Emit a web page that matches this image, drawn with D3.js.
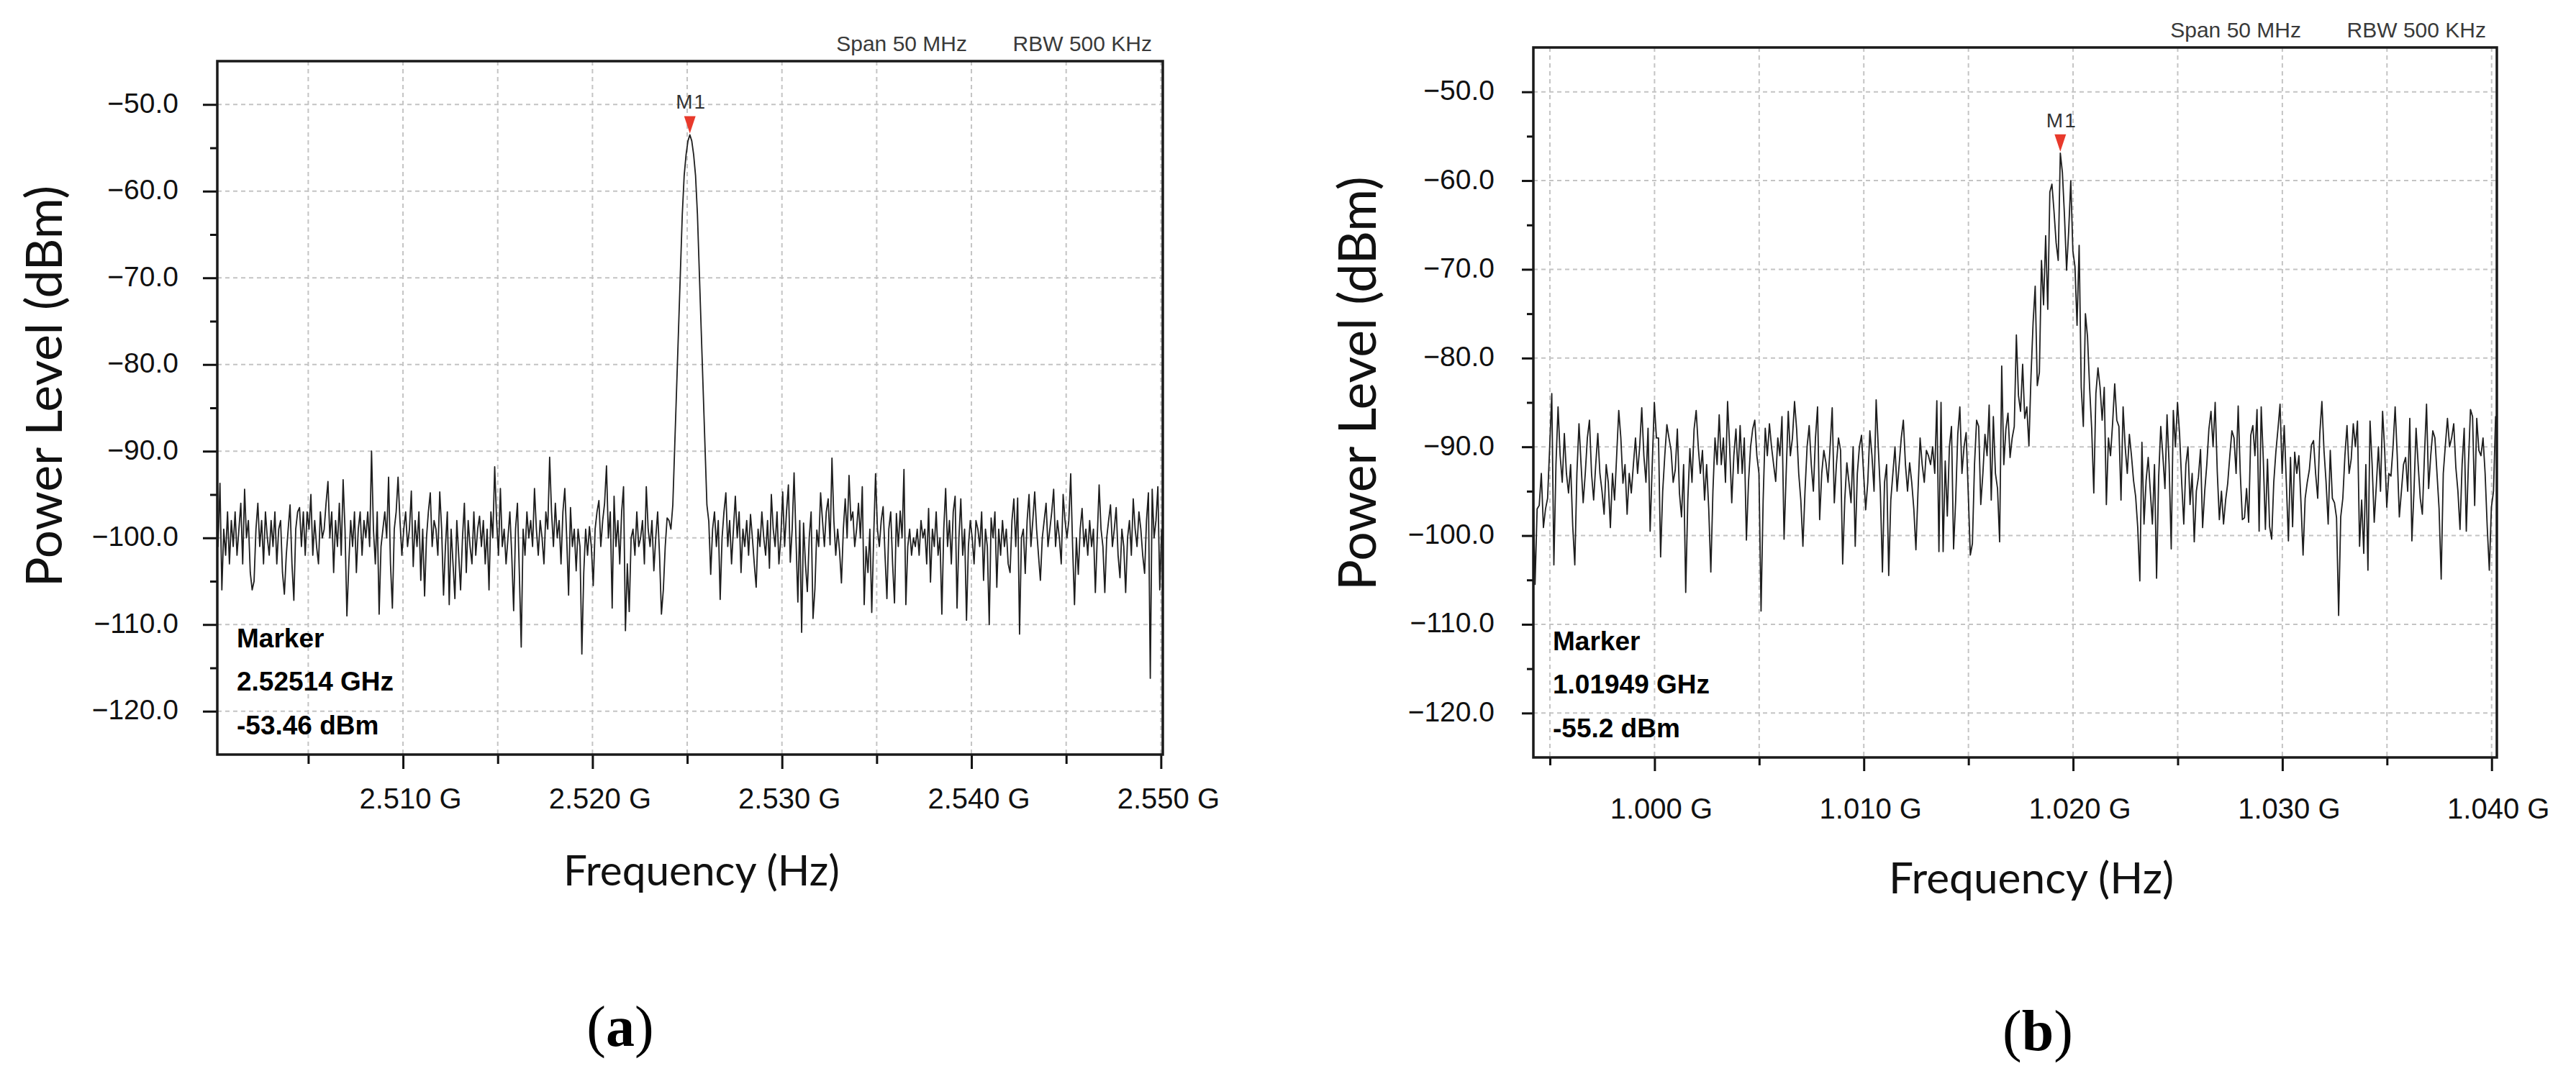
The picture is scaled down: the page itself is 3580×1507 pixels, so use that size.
<!DOCTYPE html>
<html>
<head>
<meta charset="utf-8">
<script src="https://cdn.jsdelivr.net/npm/d3@7"></script>
<style>
  body { margin: 0; background: #fff; }
  svg { display: block; }
</style>
</head>
<body>
<svg id="fig" width="3580" height="1507"></svg>
<script>
// ---- data ----
// (a) 2.5 GHz span, one sample every 0.1 MHz
const specA_start = 2.50014;   // GHz
const specA_step = 0.0001;     // GHz
const specA_level = [
  -98, -101, -93.7, -106, -99, -102, -97, -103, -98, -101,
  -97, -102, -99, -96, -103, -94.4, -100, -98, -104, -106,
  -105, -99, -96, -101, -98, -103, -97, -100, -102, -98,
  -101, -97, -103, -99, -98, -104, -106.5, -102, -99, -96.2,
  -103, -107.2, -99, -97, -96.5, -101, -97, -102, -97, -99,
  -95, -102, -98, -101, -103, -97, -100, -99, -96, -93.5,
  -100, -97, -104, -98, -101, -96, -102, -93.3, -99, -109,
  -103, -98, -101, -97, -104, -99, -97, -102, -98, -100,
  -97, -101, -90, -99, -103, -97, -108.8, -101, -99, -97,
  -100, -93, -103, -108.1, -99, -97, -93, -98, -102, -99,
  -97, -101, -99, -94.6, -103.3, -98, -101, -97, -104.9, -99,
  -106.7, -100, -97, -94.8, -101, -98, -99, -102, -94.7, -99,
  -106.6, -101, -97, -107.7, -99, -103, -107, -98, -102, -106,
  -100, -96, -104, -98, -101, -103, -97, -102, -99, -97.5,
  -101, -98, -103, -99, -106, -97, -100, -91.8, -98, -102,
  -94.3, -101, -99, -103, -100, -97, -102, -108.4, -99, -96,
  -104, -112.6, -99, -102, -97, -100, -98, -101, -94.3, -99,
  -102, -98, -100, -103, -97, -99, -90.7, -97, -101, -96,
  -100, -98, -103, -97, -94.3, -100, -106.6, -96.5, -101, -99,
  -103.8, -99, -101, -113.4, -104, -99, -102, -98.7, -101, -105.5,
  -99, -97, -95.7, -101, -98, -96, -91.7, -100, -97, -108.1,
  -95.2, -101, -98, -103, -97, -94.1, -110.7, -103, -108.5, -100,
  -99, -102, -97, -101, -100, -98, -103, -94.1, -99, -101,
  -98, -103.8, -100, -97, -102, -108.8, -106, -101, -97.7, -98,
  -99, -96.2, -89.5, -82.8, -76.1, -69.4, -62.7, -58.2, -55.8, -54.2,
  -53.5, -54.2, -55.8, -58.2, -62.7, -69.4, -76.1, -82.8, -89.5, -96.2,
  -98.1, -104.2, -99, -97, -101, -98, -107.1, -100, -97, -94.8,
  -101, -98, -103, -99, -95.2, -100, -97, -104, -99, -101,
  -98, -102, -97.3, -100, -103, -105.7, -99, -101, -97, -100,
  -102, -98, -103.5, -95, -99, -101, -97, -103, -100, -94.7,
  -101, -97, -93.9, -102.8, -99, -92.5, -100, -107.4, -98, -110.9,
  -98.3, -103, -106.2, -100, -97, -109.3, -105.9, -99.1, -101, -94.8,
  -98, -101, -97, -95.5, -100.8, -90.8, -98, -102, -99, -101.5,
  -105.2, -99, -95.5, -100, -92.8, -98, -97, -101, -99, -96,
  -100, -94.1, -107.7, -101, -104, -99, -108.6, -100, -92.6, -99,
  -101, -98, -96.4, -102, -107, -99, -97, -103, -107.5, -97.2,
  -101, -96.9, -100, -92.1, -107.7, -101, -99, -102, -100, -101,
  -99, -102, -98, -100, -99, -103, -96.6, -105.1, -99, -101,
  -97, -102, -100, -108.8, -99, -94.3, -101, -98, -103, -97,
  -95.2, -108.1, -100, -95.5, -102, -99, -109.5, -101, -98, -100,
  -103, -98, -99, -101, -97, -104.9, -99, -101, -110, -97.7,
  -100, -97, -105.7, -99, -102, -98, -101, -99, -103, -104,
  -98, -95.5, -101, -95.4, -111.1, -100, -99, -104.1, -98, -95,
  -101, -98, -94.7, -99, -102, -104.9, -100, -98, -96, -101,
  -99, -97, -94.4, -101, -98, -100, -103, -95, -98, -100,
  -98, -92.6, -101, -107.7, -100, -104.2, -99, -96.6, -101, -99,
  -102, -98, -101, -99, -106.3, -100, -93.9, -99, -101, -106.3,
  -100, -98, -96.2, -101, -99, -96.5, -102, -104.6, -99, -101,
  -106.3, -100, -98, -102, -95.5, -99, -101, -97, -99, -102,
  -104.1, -98, -94.8, -116.2, -94.4, -100, -98, -94.1, -106, -99
];

// (b) 1.0 GHz span, one sample every 0.1 MHz
const specB_start = 0.99419;   // GHz
const specB_step = 0.0001;     // GHz
const specB_level = [
  -93, -105.5, -97, -96.6, -93, -99.1, -97, -95.8, -90, -84,
  -103.3, -92, -85.5, -91, -94, -88.5, -93, -95.2, -92, -98.9,
  -103.3, -93, -87.4, -92, -96.3, -93, -89, -87, -93, -96,
  -92, -88.5, -93, -95, -97.6, -92, -94, -99.1, -93, -96,
  -91, -85.9, -89, -94.1, -92, -97.6, -93, -95.2, -92, -89,
  -93, -90, -85.6, -91, -94, -87.9, -99.5, -92, -85, -89,
  -89, -102.4, -95, -91, -87.5, -89, -90.4, -94, -92.6, -88,
  -95.2, -97.9, -92, -106.4, -96, -90.2, -94, -88, -85.9, -90,
  -93, -90.4, -96, -92, -97, -104.1, -95, -89, -92, -86.4,
  -92, -89, -94, -84.9, -90, -96.3, -91, -88, -93, -87.6,
  -93, -89, -100.5, -94, -90, -88, -87, -91, -93, -108.5,
  -96, -87.9, -91, -87.4, -90, -92, -93.9, -89, -91, -86.6,
  -100.4, -93, -86, -91, -89, -84.9, -88, -93, -96, -101.2,
  -95, -90, -87.6, -92, -95, -89, -85.5, -98.2, -93, -90.4,
  -91.8, -94, -90, -85.6, -96.3, -92, -89, -90.4, -103.2, -96,
  -91.8, -94, -96.3, -90, -101.2, -93, -90, -88.7, -93, -97.1,
  -94, -88.2, -91, -95, -84.7, -90, -95, -104.1, -94, -92,
  -104.5, -96, -93, -90, -95, -92, -89, -87, -92, -95,
  -91.8, -94, -97, -101.6, -95, -89, -92, -94, -90.4, -91,
  -92, -90, -93, -84.8, -101.8, -85, -101.8, -91.6, -97.8, -90,
  -87.7, -101.5, -96, -88.6, -85.5, -93, -90, -88.4, -95.2, -102.2,
  -100.9, -92, -87, -87.7, -96.5, -93, -88.6, -91, -85.3, -96,
  -86.6, -93, -94.7, -100.7, -80.9, -92, -88, -86.2, -91.2, -89,
  -87.7, -77.4, -84.2, -86, -80.7, -86.8, -85.5, -89.9, -82, -76,
  -71.9, -83.1, -81.6, -69, -74, -66.2, -74.5, -61.3, -60.4, -63.5,
  -67, -69, -56.9, -59.1, -64, -70.1, -65.7, -60, -67.9, -69.7,
  -76.3, -67.3, -83.3, -87.7, -75, -77.6, -83.3, -88, -95.2, -84,
  -81.1, -83.3, -87, -83.3, -96.5, -89, -91, -87.3, -82.9, -87,
  -87.7, -96, -85.5, -90, -93, -88.6, -91, -93.8, -95.6, -99.1,
  -105.1, -89.5, -98.7, -93.8, -91.2, -95, -98.7, -92, -104.8, -93.4,
  -87.7, -91, -94.7, -86.4, -92, -101.5, -85.9, -90, -85, -88.6,
  -94, -98.7, -92, -90, -96.5, -93, -100.7, -95, -93.4, -90.3,
  -99.1, -95, -92, -88, -86, -90, -85, -92.8, -98.2, -95,
  -98.7, -96, -94.1, -91, -88.2, -89, -93, -85.4, -93, -98.2,
  -98, -94.7, -98.5, -88.7, -87.6, -91, -85.8, -99.5, -85.5, -91.4,
  -99.3, -91.4, -99, -100.4, -94, -90.6, -88, -85.2, -93, -87.6,
  -94, -100.6, -91.2, -99, -90.6, -93, -91, -96.3, -102.2, -95.8,
  -94, -92.6, -89.8, -89.3, -93, -95.8, -88.5, -84.9, -90.4, -94,
  -98.7, -90.4, -95.8, -96.3, -98, -109, -97.9, -95.8, -91, -87.6,
  -93, -91.4, -87.4, -90, -87.1, -101.2, -96, -102, -92, -103.9,
  -87.1, -92, -98.5, -94.4, -90, -95, -86, -90.4, -96.8, -93,
  -93.3, -90, -85.5, -91, -97.9, -95, -92, -91.2, -95, -86.8,
  -100.6, -95, -87.9, -92, -95.8, -97.6, -91, -85.2, -94.7, -91,
  -88.2, -89, -93, -97, -104.9, -93, -89.8, -86.8, -90, -89,
  -87.4, -92.3, -95, -99.3, -92, -87.9, -99.5, -92, -85.8, -86.6,
  -96.6, -86.8, -90.4, -91, -89, -93, -99, -103.9, -96.8, -95,
  -86.6, -88
];

// axis ticks
const levelTicks = [-50, -60, -70, -80, -90, -100, -110, -120];
const levelMinor = [-55, -65, -75, -85, -95, -105, -115];
const freqMajorA = [2.510, 2.520, 2.530, 2.540, 2.550];
const freqMinorA = [2.505, 2.515, 2.525, 2.535, 2.545];
const freqMajorB = [1.000, 1.010, 1.020, 1.030, 1.040];
const freqMinorB = [0.995, 1.005, 1.015, 1.025, 1.035];

// annotation texts
const headerNotes = ["Span 50 MHz", "RBW 500 KHz"];
const markerA = ["Marker", "2.52514 GHz", "-53.46 dBm"];
const markerB = ["Marker", "1.01949 GHz", "-55.2 dBm"];
const xTitle = "Frequency (Hz)";
const yTitle = "Power Level (dBm)";

const svg = d3.select("#fig");
const tickFont = "'Liberation Sans', Arial, sans-serif";
const titleFont = "Lato, 'Open Sans', sans-serif";

const panels = [
    {
        id: "a", tag: "a",
        box: { left: 302, right: 1616, top: 85, bottom: 1049 },
        fDomain: [2.5002, 2.5501],
        start: specA_start, step: specA_step, levels: specA_level,
        major: freqMajorA, minor: freqMinorA,
        yTickLen: 20, yMinorLen: 10, xTickLen: 20, xMinorLen: 13,
        xLabelDrop: 75, xLabelShift: 10,
        marker: markerA,
        xTitlePos: [975, 1231, 384], yTitlePos: [86, 537, 558],
        tagPos: [862, 1454]
    },
    {
        id: "b", tag: "b",
        box: { left: 2131, right: 3470, top: 66, bottom: 1053 },
        fDomain: [0.99421, 1.04025],
        start: specB_start, step: specB_step, levels: specB_level,
        major: freqMajorB, minor: freqMinorB,
        yTickLen: 16, yMinorLen: 9, xTickLen: 19, xMinorLen: 11,
        xLabelDrop: 85, xLabelShift: 9,
        marker: markerB,
        xTitlePos: [2823, 1242, 396], yTitlePos: [1912, 533, 576],
        tagPos: [2832, 1460]
    }
];

function fitWidth(sel, target) {
    const len = sel.node().getComputedTextLength();
    const size = parseFloat(sel.attr("font-size"));
    sel.attr("font-size", (size * target / len).toFixed(1));
}

panels.forEach(p => {
    const b = p.box;
    const x = d3.scaleLinear().domain(p.fDomain).range([b.left, b.right]);
    const y = d3.scaleLinear().domain([-125, -45]).range([b.bottom, b.top]);
    const g = svg.append("g").attr("id", "panel-" + p.id);

    // grid
    const grid = g.append("g")
        .attr("stroke", "#c4c4c4")
        .attr("stroke-width", 2)
        .attr("stroke-dasharray", "6,5");
    grid.selectAll("line.h")
        .data(levelTicks)
        .join("line")
        .attr("class", "h")
        .attr("x1", b.left).attr("x2", b.right)
        .attr("y1", d => y(d)).attr("y2", d => y(d));
    grid.selectAll("line.v")
        .data(p.major.concat(p.minor))
        .join("line")
        .attr("class", "v")
        .attr("x1", d => x(d)).attr("x2", d => x(d))
        .attr("y1", b.top).attr("y2", b.bottom);

    // trace
    const clipId = "clip-" + p.id;
    g.append("clipPath").attr("id", clipId)
        .append("rect")
        .attr("x", b.left).attr("y", b.top)
        .attr("width", b.right - b.left).attr("height", b.bottom - b.top);

    const line = d3.line()
        .x((d, i) => x(p.start + i * p.step))
        .y(d => y(d));

    g.append("path")
        .datum(p.levels)
        .attr("clip-path", `url(#${clipId})`)
        .attr("fill", "none")
        .attr("stroke", "#1e1e1e")
        .attr("stroke-width", 1.8)
        .attr("stroke-linejoin", "round")
        .attr("d", line);

    // axes
    const yAxis = g.append("g")
        .attr("transform", `translate(${b.left},0)`)
        .call(d3.axisLeft(y).tickValues(levelTicks)
            .tickSize(p.yTickLen).tickPadding(54 - p.yTickLen)
            .tickFormat(d3.format(".1f")));
    g.append("g")
        .attr("transform", `translate(${b.left},0)`)
        .call(d3.axisLeft(y).tickValues(levelMinor)
            .tickSize(p.yMinorLen).tickFormat(""));

    const xAxis = g.append("g")
        .attr("transform", `translate(0,${b.bottom})`)
        .call(d3.axisBottom(x).tickValues(p.major)
            .tickSize(p.xTickLen)
            .tickFormat(d => d3.format(".3f")(d) + " G"));
    g.append("g")
        .attr("transform", `translate(0,${b.bottom})`)
        .call(d3.axisBottom(x).tickValues(p.minor)
            .tickSize(p.xMinorLen).tickFormat(""));

    g.selectAll(".domain").remove();
    g.selectAll(".tick line")
        .attr("stroke", "#111")
        .attr("stroke-width", 3);

    yAxis.selectAll("text")
        .attr("font-family", tickFont)
        .attr("font-size", 39)
        .attr("fill", "#111")
        .attr("dy", 11);

    xAxis.selectAll("text")
        .attr("font-family", tickFont)
        .attr("font-size", 40)
        .attr("fill", "#111")
        .attr("x", p.xLabelShift)
        .attr("y", p.xLabelDrop)
        .attr("dy", 0);

    // frame
    g.append("rect")
        .attr("x", b.left).attr("y", b.top)
        .attr("width", b.right - b.left).attr("height", b.bottom - b.top)
        .attr("fill", "none")
        .attr("stroke", "#1a1a1a")
        .attr("stroke-width", 3.5);

    // span / rbw notes
    g.selectAll("text.note")
        .data(headerNotes)
        .join("text")
        .attr("class", "note")
        .attr("x", (d, i) => i === 0 ? b.right - 272 : b.right - 15)
        .attr("y", b.top - 14)
        .attr("text-anchor", "end")
        .attr("font-family", tickFont)
        .attr("font-size", 30)
        .attr("fill", "#3a3a3a")
        .text(d => d);

    // peak marker
    const iMax = d3.maxIndex(p.levels);
    const mx = x(p.start + iMax * p.step);
    const my = y(p.levels[iMax]);
    g.append("path")
        .attr("d", `M${mx - 8},${my - 26}L${mx + 8},${my - 26}L${mx},${my - 2}Z`)
        .attr("fill", "#e8392b");
    g.append("text")
        .attr("x", mx + 2)
        .attr("y", my - 36)
        .attr("text-anchor", "middle")
        .attr("font-family", tickFont)
        .attr("font-size", 28)
        .attr("letter-spacing", 2)
        .attr("fill", "#333")
        .text("M1");

    // marker read-out
    g.selectAll("text.readout")
        .data(p.marker)
        .join("text")
        .attr("class", "readout")
        .attr("x", b.left + 27)
        .attr("y", (d, i) => b.bottom - [149, 89, 28][i])
        .attr("font-family", tickFont)
        .attr("font-weight", "bold")
        .attr("font-size", 37)
        .attr("fill", "#000")
        .text(d => d);

    // axis titles
    const xt = g.append("text")
        .attr("x", p.xTitlePos[0])
        .attr("y", p.xTitlePos[1])
        .attr("text-anchor", "middle")
        .attr("font-family", titleFont)
        .attr("font-size", 52)
        .attr("fill", "#111")
        .text(xTitle);
    fitWidth(xt, p.xTitlePos[2]);

    const yt = g.append("text")
        .attr("transform", `translate(${p.yTitlePos[0]},${p.yTitlePos[1]}) rotate(-90)`)
        .attr("text-anchor", "middle")
        .attr("font-family", titleFont)
        .attr("font-size", 66)
        .attr("fill", "#111")
        .text(yTitle);
    fitWidth(yt, p.yTitlePos[2]);

    // sub-figure tag
    const tag = g.append("text")
        .attr("x", p.tagPos[0])
        .attr("y", p.tagPos[1])
        .attr("text-anchor", "middle")
        .attr("font-family", "'Liberation Serif', 'Times New Roman', serif")
        .attr("font-size", 80)
        .attr("fill", "#000");
    tag.append("tspan").text("(");
    tag.append("tspan").attr("font-weight", "bold").text(p.tag);
    tag.append("tspan").text(")");
});
</script>
</body>
</html>
